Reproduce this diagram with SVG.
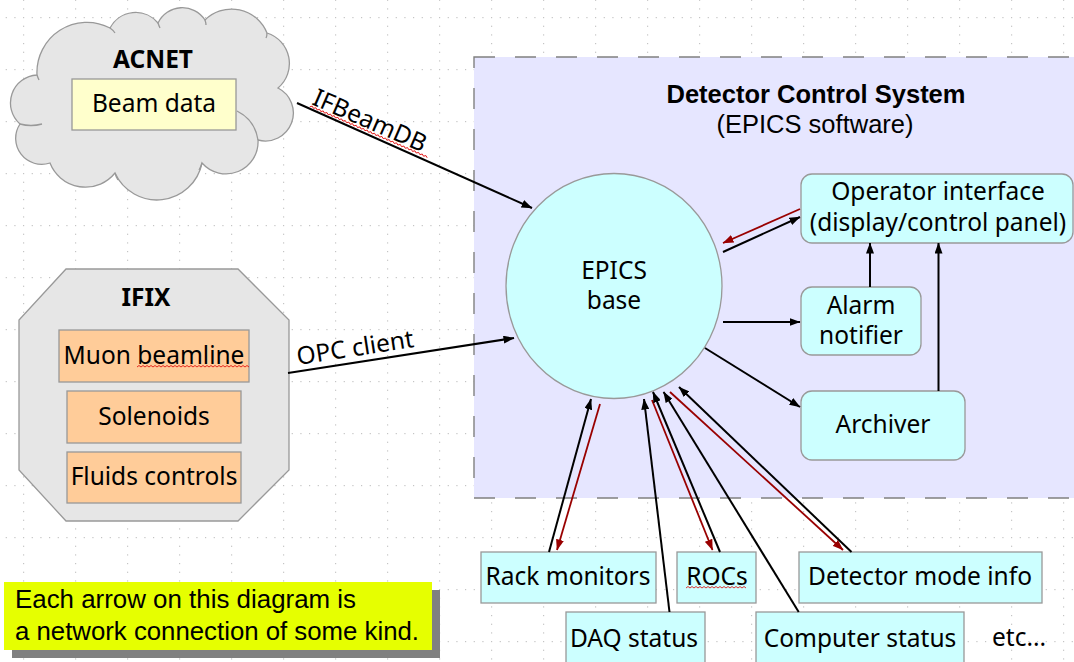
<svg xmlns="http://www.w3.org/2000/svg" width="1074" height="662" viewBox="0 0 1074 662">
<defs>
<pattern id="grid" patternUnits="userSpaceOnUse" x="23" y="17" width="52" height="52">
<g fill="#c4c4c4">
<rect x="0" y="0" width="1.2" height="1.2"/><rect x="8.67" y="0" width="1.2" height="1.2"/><rect x="17.33" y="0" width="1.2" height="1.2"/><rect x="26" y="0" width="1.2" height="1.2"/><rect x="34.67" y="0" width="1.2" height="1.2"/><rect x="43.33" y="0" width="1.2" height="1.2"/>
<rect x="0" y="8.67" width="1.2" height="1.2"/><rect x="0" y="17.33" width="1.2" height="1.2"/><rect x="0" y="26" width="1.2" height="1.2"/><rect x="0" y="34.67" width="1.2" height="1.2"/><rect x="0" y="43.33" width="1.2" height="1.2"/>
</g>
</pattern>
<marker id="ab" viewBox="0 0 11 8" refX="10.5" refY="4" markerWidth="11" markerHeight="8" markerUnits="userSpaceOnUse" orient="auto"><path d="M0,0 L11,4 L0,8 z" fill="#000"/></marker>
<marker id="ar" viewBox="0 0 11 8" refX="10.5" refY="4" markerWidth="11" markerHeight="8" markerUnits="userSpaceOnUse" orient="auto"><path d="M0,0 L11,4 L0,8 z" fill="#990000"/></marker>
<style>
.lbl{font-family:"Noto Sans","Open Sans",sans-serif;font-size:24.5px;fill:#000;text-anchor:middle}
.bold{font-weight:bold}
.ttl{font-family:"Liberation Sans",Arial,sans-serif;font-size:25.5px;fill:#000;text-anchor:middle}
.note{font-family:"Liberation Sans",Arial,sans-serif;font-size:25px;fill:#000}
.gray{fill:#e6e6e6;stroke:#999;stroke-width:1.3}
.cyan{fill:#ccffff;stroke:#999;stroke-width:1.3}
.orange{fill:#ffcc99;stroke:#999;stroke-width:1.3}
.yel{fill:#ffffcc;stroke:#999;stroke-width:1.3}
.blk{stroke:#000;stroke-width:2;fill:none;marker-end:url(#ab)}
.red{stroke:#990000;stroke-width:1.8;fill:none;marker-end:url(#ar)}
.squig{stroke:#e00000;stroke-width:0.8;fill:none}
</style>
</defs>
<rect x="0" y="0" width="1074" height="662" fill="#fff"/>
<rect x="0" y="0" width="1074" height="662" fill="url(#grid)"/>

<g id="dcs">
<rect x="474" y="57" width="610" height="441" fill="#e6e6ff" stroke="#808080" stroke-width="1.4" stroke-dasharray="21 20"/>
<text class="ttl bold" x="816" y="103">Detector Control System</text>
<text class="ttl" x="815" y="133">(EPICS software)</text>
</g>

<g id="acnet">
<path class="gray" d="M37,75 A50,50 0 0,1 110,28 A29,29 0 0,1 158,23 A27,27 0 0,1 205,20 A38,38 0 0,1 267,33 A32,32 0 0,1 278,88 A28,28 0 0,1 258,140 A32,32 0 0,1 202,163 A46,46 0 0,1 115,173 A38,38 0 0,1 50,163 A26,26 0 0,1 20,124 A28,28 0 0,1 37,75 Z"/>
<path d="M20,124 Q31,127 42,124 M37,75 Q38,78 39,80 M115,173 q1,4 3,7 M202,163 q-1,4 -3,7 M237,111 Q255,120 258,140 M267,33 q0,3 -1,5 M110,28 q3,2 5,5 M205,20 q1,3 1,5 M158,23 q1,3 2,5" fill="none" stroke="#999" stroke-width="1.3"/>
<text class="lbl bold" x="153" y="68">ACNET</text>
<g id="beamdata">
<rect class="yel" x="72" y="79" width="164" height="51"/>
<text class="lbl" x="154" y="112">Beam data</text>
</g>
</g>

<g id="ifix">
<polygon class="gray" points="66,269 238,269 289,320 289,470 238,521 66,521 19,470 19,320"/>
<text class="lbl bold" x="146" y="306">IFIX</text>
<g id="muon">
<rect class="orange" x="59" y="330" width="190" height="52"/>
<text class="lbl" x="154" y="364">Muon beamline</text>
<path class="squig" d="M137,367 l2,-1.5 2,1.5 2,-1.5 2,1.5 2,-1.5 2,1.5 2,-1.5 2,1.5 2,-1.5 2,1.5 2,-1.5 2,1.5 2,-1.5 2,1.5 2,-1.5 2,1.5 2,-1.5 2,1.5 2,-1.5 2,1.5 2,-1.5 2,1.5 2,-1.5 2,1.5 2,-1.5 2,1.5 2,-1.5 2,1.5 2,-1.5 2,1.5 2,-1.5 2,1.5 2,-1.5 2,1.5 2,-1.5 2,1.5 2,-1.5 2,1.5 2,-1.5 2,1.5 2,-1.5 2,1.5 2,-1.5 2,1.5 2,-1.5 2,1.5 2,-1.5 2,1.5 2,-1.5 2,1.5 2,-1.5 2,1.5 2,-1.5 2,1.5 2,-1.5 2,1.5"/>
</g>
<g id="solenoids">
<rect class="orange" x="67" y="391" width="174" height="52"/>
<text class="lbl" x="154" y="425">Solenoids</text>
</g>
<g id="fluids">
<rect class="orange" x="67" y="452" width="174" height="51"/>
<text class="lbl" x="154" y="485">Fluids controls</text>
</g>
</g>

<g id="epics">
<ellipse class="cyan" cx="614" cy="286" rx="108" ry="112.5"/>
<text class="lbl" x="614" y="279">EPICS</text>
<text class="lbl" x="614" y="309">base</text>
</g>

<g id="operator">
<rect class="cyan" x="801" y="174" width="272" height="69" rx="11"/>
<text class="lbl" x="938" y="200">Operator interface</text>
<text class="lbl" x="938" y="230.5">(display/control panel)</text>
</g>

<g id="alarm">
<rect class="cyan" x="801" y="287" width="120" height="68" rx="11"/>
<text class="lbl" x="861" y="313.5">Alarm</text>
<text class="lbl" x="861" y="344">notifier</text>
</g>

<g id="archiver">
<rect class="cyan" x="801" y="391" width="164" height="69" rx="11"/>
<text class="lbl" x="883" y="433">Archiver</text>
</g>

<g id="rack">
<rect class="cyan" x="481" y="552" width="175" height="51"/>
<text class="lbl" x="568" y="585">Rack monitors</text>
</g>
<g id="rocs">
<rect class="cyan" x="677" y="552" width="79" height="51"/>
<text class="lbl" x="717" y="585">ROCs</text>
<path class="squig" d="M686,588 l2,-1.5 2,1.5 2,-1.5 2,1.5 2,-1.5 2,1.5 2,-1.5 2,1.5 2,-1.5 2,1.5 2,-1.5 2,1.5 2,-1.5 2,1.5 2,-1.5 2,1.5 2,-1.5 2,1.5 2,-1.5 2,1.5 2,-1.5 2,1.5 2,-1.5 2,1.5 2,-1.5 2,1.5 2,-1.5 2,1.5 2,-1.5 2,1.5"/>
</g>
<g id="detmode">
<rect class="cyan" x="799" y="552" width="243" height="51"/>
<text class="lbl" x="920" y="585">Detector mode info</text>
</g>
<g id="daq">
<rect class="cyan" x="566" y="612" width="139" height="60"/>
<text class="lbl" x="634" y="647">DAQ status</text>
</g>
<g id="computer">
<rect class="cyan" x="756" y="612" width="208" height="60"/>
<text class="lbl" x="860" y="647">Computer status</text>
</g>
<g id="etc">
<text class="lbl" x="992" y="646" style="text-anchor:start">etc...</text>
</g>

<g id="connectors">
<path class="blk" d="M297,103 L532,208"/>
<g transform="translate(311,104) rotate(23.5)">
<text class="lbl" x="0" y="0" style="text-anchor:start">IFBeamDB</text>
<path class="squig" d="M0,3 l2,-1.5 2,1.5 2,-1.5 2,1.5 2,-1.5 2,1.5 2,-1.5 2,1.5 2,-1.5 2,1.5 2,-1.5 2,1.5 2,-1.5 2,1.5 2,-1.5 2,1.5 2,-1.5 2,1.5 2,-1.5 2,1.5 2,-1.5 2,1.5 2,-1.5 2,1.5 2,-1.5 2,1.5 2,-1.5 2,1.5 2,-1.5 2,1.5 2,-1.5 2,1.5 2,-1.5 2,1.5 2,-1.5 2,1.5 2,-1.5 2,1.5 2,-1.5 2,1.5 2,-1.5 2,1.5 2,-1.5 2,1.5 2,-1.5 2,1.5 2,-1.5 2,1.5 2,-1.5 2,1.5 2,-1.5 2,1.5 2,-1.5 2,1.5 2,-1.5 2,1.5 2,-1.5 2,1.5 2,-1.5 2,1.5 2,-1.5 2,1.5 2,-1.5 2,1.5"/>
</g>
<path class="blk" d="M288,373 L514,338"/>
<text class="lbl" x="298" y="365" style="text-anchor:start" transform="rotate(-8.8 298 365)">OPC client</text>
<path class="blk" d="M723,252 L800,217"/>
<path class="red" d="M800,209 L723,243"/>
<path class="blk" d="M723,322 L800,322"/>
<path class="blk" d="M705,348 L800,407"/>
<path class="blk" d="M870,287 L870,243"/>
<path class="blk" d="M938.5,391 L938.5,243"/>
<path class="blk" d="M549,552 L591,399"/>
<path class="red" d="M600,404 L557,550"/>
<path class="blk" d="M669.5,612 L644,399"/>
<path class="red" d="M652,400 L712.5,550"/>
<path class="blk" d="M720,552 L653,392"/>
<path class="blk" d="M798.7,612 L663.6,392"/>
<path class="red" d="M670,392 L843,550"/>
<path class="blk" d="M851.5,552 L679,387"/>
</g>

<g id="note">
<rect x="12" y="590" width="428" height="68" fill="#808080"/>
<rect x="4" y="582" width="428" height="68" fill="#e6ff00"/>
<text class="note" x="15" y="608" textLength="341" lengthAdjust="spacingAndGlyphs">Each arrow on this diagram is</text>
<text class="note" x="15" y="640" textLength="404" lengthAdjust="spacingAndGlyphs">a network connection of some kind.</text>
</g>
</svg>
